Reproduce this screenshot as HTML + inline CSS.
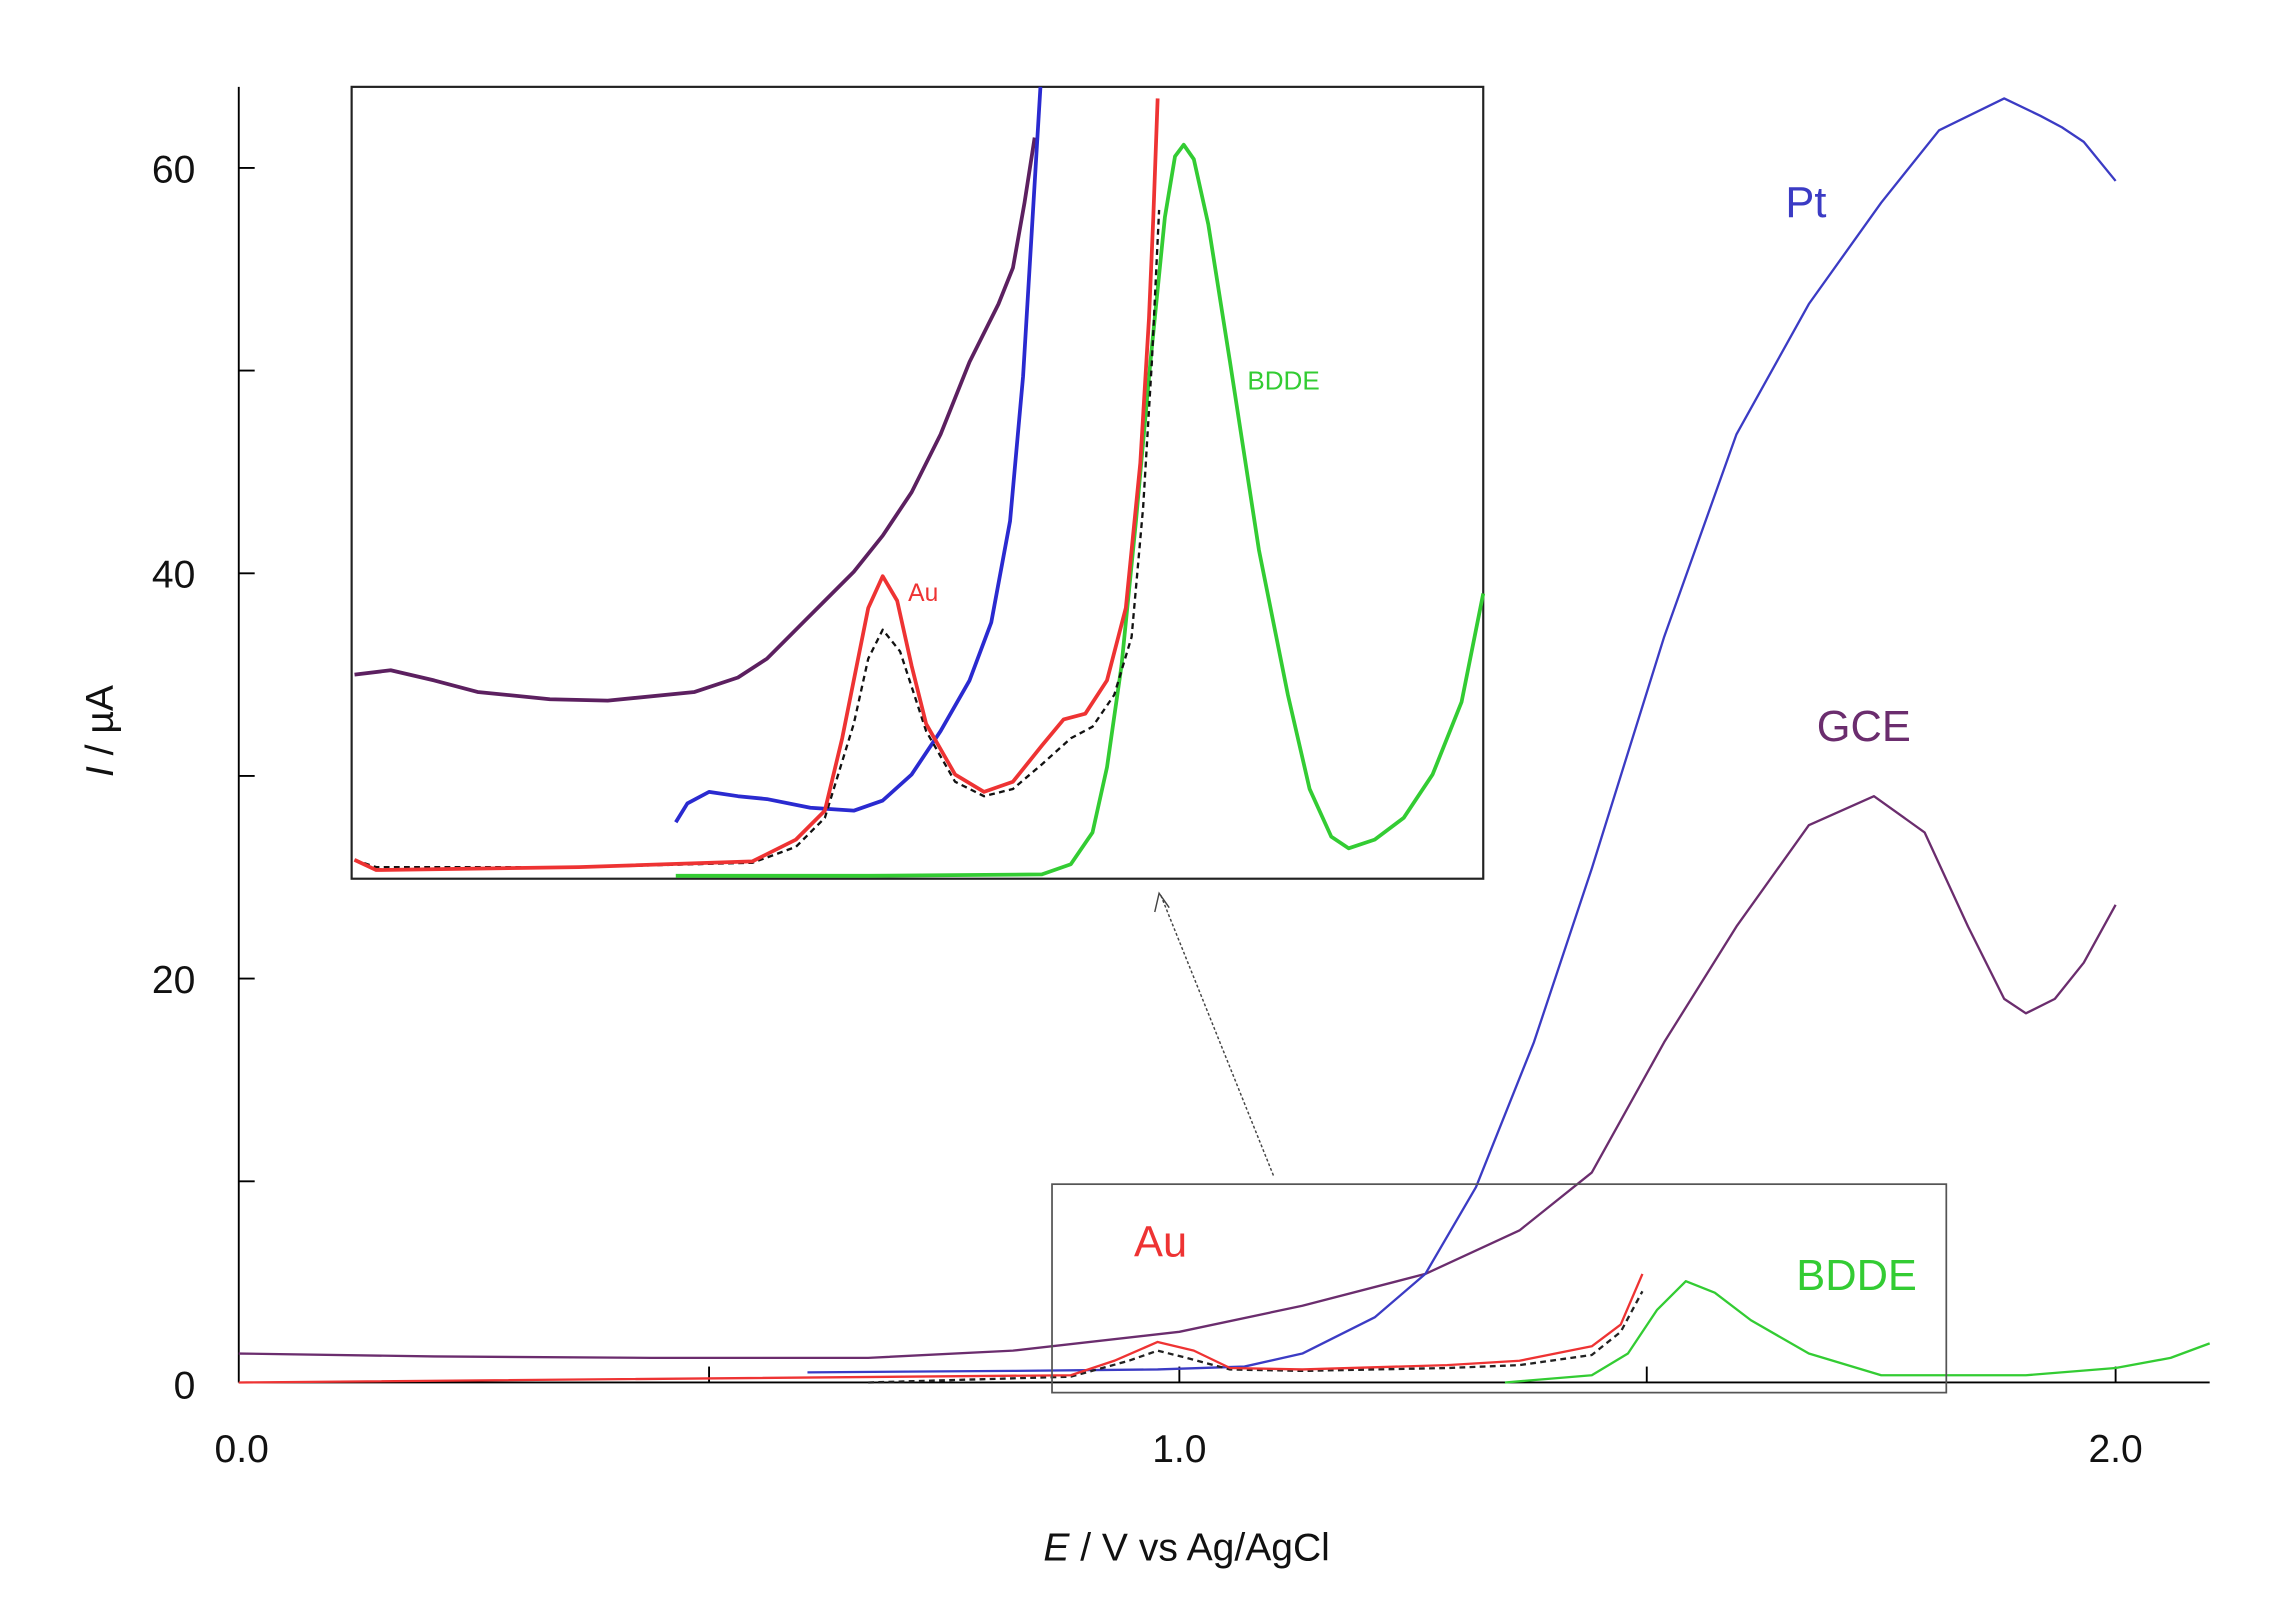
<!DOCTYPE html>
<html><head><meta charset="utf-8"><style>
html,body{margin:0;padding:0;background:#fff}
svg{display:block}
text{font-family:"Liberation Sans",sans-serif}
</style></head><body>
<svg width="2269" height="1617" viewBox="0 0 1568 1117" preserveAspectRatio="none" xmlns="http://www.w3.org/2000/svg">
<rect width="1568" height="1117" fill="#fff"/>
<g stroke="#000" stroke-width="1.3" fill="none">
<line x1="165" y1="60" x2="165" y2="955"/>
<line x1="165" y1="955" x2="1527" y2="955"/>
<line x1="165" y1="116" x2="176" y2="116"/><line x1="165" y1="256" x2="176" y2="256"/>
<line x1="165" y1="396" x2="176" y2="396"/><line x1="165" y1="536" x2="176" y2="536"/>
<line x1="165" y1="676" x2="176" y2="676"/><line x1="165" y1="816" x2="176" y2="816"/>
<line x1="490" y1="955" x2="490" y2="944"/><line x1="815" y1="955" x2="815" y2="944"/>
<line x1="1138" y1="955" x2="1138" y2="944"/><line x1="1462" y1="955" x2="1462" y2="944"/>
</g>
<g font-size="27" fill="#111" text-anchor="end">
<text x="135" y="126">60</text><text x="135" y="406">40</text><text x="135" y="686">20</text><text x="135" y="966">0</text>
</g>
<g font-size="27" fill="#111" text-anchor="middle">
<text x="167" y="1010">0.0</text><text x="815" y="1010">1.0</text><text x="1462" y="1010">2.0</text>
<text x="820" y="1078"><tspan font-style="italic">E</tspan> / V vs Ag/AgCl</text>
</g>
<text transform="translate(78,505) rotate(-90)" font-size="27" fill="#111" text-anchor="middle"><tspan font-style="italic">I</tspan> / µA</text>

<g fill="none" stroke-width="1.6" stroke-linejoin="round">
<polyline stroke="#6b2d6e" points="165,935 300,937 450,938 600,938 700,933 815,920 900,902 985,880 1050,850 1100,810 1150,720 1200,640 1250,570 1295,550 1330,575 1360,640 1385,690 1400,700 1420,690 1440,665 1462,625"/>
<polyline stroke="#3b3bc4" points="558,948 700,947 800,946 860,944 900,935 950,910 985,880 1020,820 1060,720 1100,600 1150,440 1200,300 1250,210 1300,140 1340,90 1385,68 1410,80 1425,88 1440,98 1462,125"/>
<polyline stroke="#222" stroke-dasharray="4,3" points="600,955 740,951 780,940 800,933 820,938 850,946 900,947 1000,945 1050,943 1100,936 1120,920 1135,892"/>
<polyline stroke="#e33" points="165,955 740,950 770,940 800,927 825,933 850,945 900,946 1000,943 1050,940 1100,930 1120,915 1135,880"/>
<polyline stroke="#3c3" points="1040,955 1100,950 1125,935 1145,905 1165,885 1185,893 1210,912 1250,935 1300,950 1400,950 1462,945 1500,938 1527,928"/>
</g>
<text x="1248" y="150" font-size="30" fill="#3b3bc4" text-anchor="middle">Pt</text>
<text x="1288" y="512" font-size="30" fill="#6b2d6e" text-anchor="middle">GCE</text>
<text x="802" y="868" font-size="30" fill="#e33" text-anchor="middle">Au</text>
<text x="1283" y="891" font-size="30" fill="#3c3" text-anchor="middle">BDDE</text>

<rect x="727" y="818" width="618" height="144" fill="none" stroke="#555" stroke-width="1.2"/>
<line x1="880" y1="812" x2="802" y2="618" stroke="#444" stroke-width="1" stroke-dasharray="2,1.5"/>
<polyline points="798,630 801,617 808,627" fill="none" stroke="#444" stroke-width="1"/>

<rect x="243" y="60" width="782" height="547" fill="#fff" stroke="#222" stroke-width="1.5"/>
<g fill="none" stroke-width="2.6" stroke-linejoin="round">
<polyline stroke="#5c2060" points="245,466 270,463 300,470 330,478 380,483 420,484 480,478 510,468 530,455 555,430 570,415 590,395 610,370 630,340 650,300 670,250 690,210 700,185 708,140 715,95"/>
<polyline stroke="#2a2ad0" points="467,568 475,555 490,547 510,550 530,552 560,558 590,560 610,553 630,535 650,505 670,470 685,430 698,360 707,260 713,160 719,60"/>
<polyline stroke="#3c3" points="467,605 600,605 720,604 740,597 755,575 765,530 775,460 785,360 795,250 805,150 812,108 818,100 825,110 835,155 850,250 870,380 890,480 905,545 920,578 932,586 950,580 970,565 990,535 1010,485 1025,410"/>
<polyline stroke="#111" stroke-width="1.6" stroke-dasharray="4,3" points="245,594 260,599 400,599 520,596 550,585 570,565 590,500 600,455 610,435 622,450 640,505 660,540 680,550 700,545 720,528 740,510 755,502 770,480 782,440 790,350 796,250 801,145"/>
<polyline stroke="#e33" points="245,594 260,601 400,599 520,595 550,580 570,560 582,510 592,460 600,420 610,398 620,415 630,460 640,500 660,535 680,547 700,540 720,515 735,497 750,493 765,470 778,420 788,320 794,220 797,150 800,68"/>
</g>
<text x="638" y="415" font-size="17" fill="#e33" text-anchor="middle">Au</text>
<text x="887" y="269" font-size="18" fill="#3c3" text-anchor="middle">BDDE</text>
</svg>
</body></html>
